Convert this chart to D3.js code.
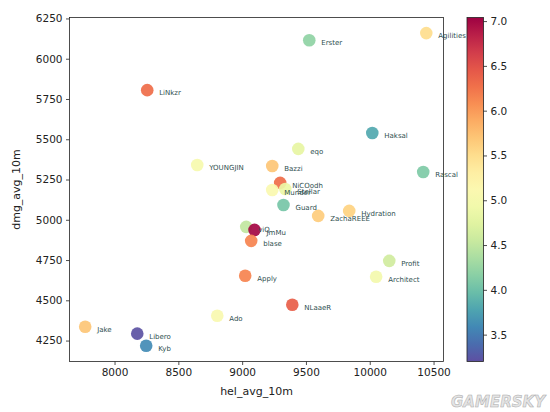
<!DOCTYPE html>
<html><head><meta charset="utf-8">
<script src="https://cdn.jsdelivr.net/npm/d3@7"></script>
<style>body{margin:0;background:#fff}svg{font-family:"DejaVu Sans",sans-serif}</style>
</head><body><svg id="c" width="550" height="412"></svg>
<script>
const names = ["Erster","Agilities","LiNkzr","Haksal","eqo","YOUNGJIN","Bazzi","Rascal","NiCOodh","Munder","Stellar","Guard","ZachaREEE","Hydration","viQ","JmMu","blase","Profit","Architect","Apply","NLaaeR","Ado","Jake","Libero","Kyb"];
const hel = [9526,10443,8256,10020,9440,8648,9236,10419,9298,9236,9338,9324,9596,9839,9032,9097,9071,10153,10050,9024,9393,8805,7770,8178,8248];
const dmg = [6115,6159,5805,5539,5440,5340,5334,5297,5229,5185,5191,5092,5024,5055,4956,4937,4869,4745,4646,4652,4472,4404,4336,4293,4218];
const cval = [4.2,5.5,6.3,3.8,4.8,5.0,5.7,4.1,6.3,5.1,4.85,4.05,5.65,5.6,4.5,7.0,6.15,4.6,4.95,6.15,6.4,5.05,5.7,3.22,3.6];
const xTicks = [8000,8500,9000,9500,10000,10500];
const yTicks = [4250,4500,4750,5000,5250,5500,5750,6000,6250];
const cTicks = [3.5,4.0,4.5,5.0,5.5,6.0,6.5,7.0];

const svg = d3.select("#c");
const L=69.5, R=443.5, T=17.5, B=361.5;
const x = d3.scaleLinear().domain([7647,10578]).range([L,R]);
const y = d3.scaleLinear().domain([4120,6256]).range([B,T]);
const cmin=3.2, cmax=7.04;
const color = v => d3.interpolateSpectral(1-(v-cmin)/(cmax-cmin));

const gx = svg.append("g").attr("transform",`translate(0,${B})`)
  .call(d3.axisBottom(x).tickValues(xTicks).tickSize(3.5).tickPadding(3.5).tickFormat(d3.format("d")));
const gy = svg.append("g").attr("transform",`translate(${L},0)`)
  .call(d3.axisLeft(y).tickValues(yTicks).tickSize(3.5).tickPadding(3.5).tickFormat(d3.format("d")));
[gx,gy].forEach(g=>{g.select(".domain").remove();g.selectAll("text").attr("font-size",10.5).attr("fill","#222").attr("font-family","DejaVu Sans");g.selectAll("line").attr("stroke","#222").attr("stroke-width",0.8);});
svg.append("rect").attr("x",L).attr("y",T).attr("width",R-L).attr("height",B-T).attr("fill","none").attr("stroke","#222").attr("stroke-width",0.8);

svg.append("text").attr("x",(L+R)/2).attr("y",395).attr("text-anchor","middle").attr("font-size",11).attr("fill","#222").text("hel_avg_10m");
svg.append("text").attr("transform",`translate(20,${(T+B)/2}) rotate(-90)`).attr("text-anchor","middle").attr("font-size",11).attr("fill","#222").text("dmg_avg_10m");

const g = svg.append("g");
names.forEach((n,i)=>{
  g.append("circle").attr("cx",x(hel[i])).attr("cy",y(dmg[i])).attr("r",6.3).attr("fill",color(cval[i])).attr("opacity",0.92);
});
names.forEach((n,i)=>{
  g.append("text").attr("x",x(hel[i])+12).attr("y",y(dmg[i])+5).attr("font-size",7).attr("fill","#2f4f4f").attr("font-family","DejaVu Sans").text(n);
});

// colorbar
const cbL=467, cbW=16.5;
const cy = d3.scaleLinear().domain([cmin,cmax]).range([B,T]);
const defs = svg.append("defs");
const grad = defs.append("linearGradient").attr("id","cb").attr("x1",0).attr("y1",1).attr("x2",0).attr("y2",0);
d3.range(0,1.0001,0.05).forEach(t=>grad.append("stop").attr("offset",t).attr("stop-color",color(cmin+t*(cmax-cmin))));
svg.append("rect").attr("x",cbL).attr("y",T).attr("width",cbW).attr("height",B-T).attr("fill","url(#cb)").attr("stroke","#222").attr("stroke-width",0.8);
const gc = svg.append("g").attr("transform",`translate(${cbL+cbW},0)`)
  .call(d3.axisRight(cy).tickValues(cTicks).tickSize(3.5).tickPadding(3.5).tickFormat(d3.format(".1f")));
gc.select(".domain").remove();
gc.selectAll("text").attr("font-size",10.5).attr("fill","#222").attr("font-family","DejaVu Sans");
gc.selectAll("line").attr("stroke","#222").attr("stroke-width",0.8);

svg.append("text").attr("x",545).attr("y",407).attr("text-anchor","end").attr("font-size",15).attr("font-weight","bold").attr("font-style","italic").attr("fill","#e4e4e4").attr("stroke","#aaa").attr("stroke-width",0.5).text("GAMERSKY");
</script></body></html>
